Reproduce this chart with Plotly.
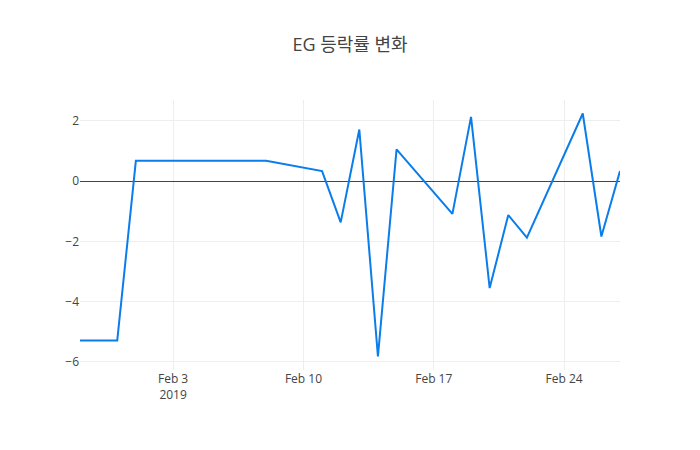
import plotly.graph_objs as go

# 날짜별 등락률 (%)
dates = ["2019-01-29", "2019-01-31", "2019-02-01", "2019-02-08", "2019-02-11",
         "2019-02-12", "2019-02-13", "2019-02-14", "2019-02-15", "2019-02-18",
         "2019-02-19", "2019-02-20", "2019-02-21", "2019-02-22", "2019-02-25",
         "2019-02-26", "2019-02-27"]
rates = [-5.29, -5.29, 0.67, 0.67, 0.33,
         -1.37, 1.71, -5.82, 1.05, -1.09,
         2.13, -3.55, -1.13, -1.88, 2.24,
         -1.84, 0.33]

line = go.Scatter(x=dates, y=rates, mode="lines",
                  line=dict(color="rgb(10,125,235)", width=2))

layout = go.Layout(
    title=dict(text="EG 등락률 변화", x=0.5, y=0.915,
               font=dict(size=18, color="#444")),
    width=700, height=450,
    template="none",
    paper_bgcolor="white", plot_bgcolor="white",
    font=dict(family="Open Sans, Noto Sans CJK KR, sans-serif", size=12, color="#444"),
    margin=dict(l=80, r=80, t=100, b=80),
    showlegend=False,
    xaxis=dict(showgrid=True, gridcolor="#eee", zeroline=False,
               showline=False, ticks=""),
    yaxis=dict(showgrid=True, gridcolor="#eee", zeroline=True,
               zerolinecolor="#444", zerolinewidth=1, showline=False, ticks=""),
)

fig = go.Figure(data=[line], layout=layout)
# 페이지 여백 제거
fig.write_html("out.html", config={"displayModeBar": False},
               post_script="document.body.style.margin='0';")
